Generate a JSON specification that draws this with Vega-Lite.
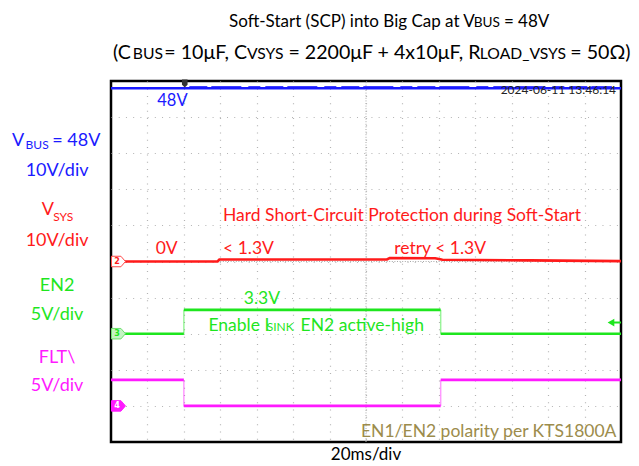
{
  "$schema": "https://vega.github.io/schema/vega-lite/v6.json",
  "width": 510,
  "height": 361,
  "autosize": "none",
  "padding": {"left": 111, "top": 81, "right": 18, "bottom": 24},
  "background": "white",
  "config": {"view": {"stroke": "#000000", "strokeWidth": 2.5}, "text": {"font": "Lato"}},
  "encoding": {
    "x": {"field": "t", "type": "quantitative", "scale": {"domain": [0, 280], "nice": false, "zero": false},
      "axis": {"values": [20, 40, 60, 80, 100, 120, 140, 160, 180, 200, 220, 240, 260], "grid": true, "gridColor": "#b4b4b4", "gridDash": [1, 6.29], "gridWidth": 1.2, "labels": false, "ticks": false, "domain": false, "title": null}},
    "y": {"field": "v", "type": "quantitative", "scale": {"domain": [0, 10], "nice": false, "zero": false},
      "axis": {"values": [1, 2, 3, 4, 5, 6, 7, 8, 9], "grid": true, "gridColor": "#b4b4b4", "gridDash": [1, 6.22], "gridWidth": 1.2, "labels": false, "ticks": false, "domain": false, "title": null}}
  },
  "layer": [
    {"data": {"values": [{"t": 140, "v": 0, "v2": 10}]}, "mark": {"type": "rule", "color": "#a8a8a8", "strokeDash": [1, 1.6], "strokeWidth": 1}, "encoding": {"y2": {"field": "v2"}}},
    {"data": {"values": [{"t": 0, "t2": 280, "v": 5}]}, "mark": {"type": "rule", "color": "#a8a8a8", "strokeDash": [1, 1.6], "strokeWidth": 1}, "encoding": {"x2": {"field": "t2"}}},
    {"data": {"values": [{"t": 43, "v": 9.845}, {"t": 275, "v": 9.845}]}, "mark": {"type": "line", "color": "#2828ff", "strokeWidth": 1.4, "strokeDash": [18, 4, 30, 7, 12, 5], "opacity": 0.9}, "encoding": {}},
    {"data": {"values": [
      {"ch": "VBUS", "seg": "b1", "t": 0, "v": 9.8}, {"ch": "VBUS", "seg": "b1", "t": 280, "v": 9.8},
      {"ch": "VSYS", "seg": "r1", "t": 0, "v": 5.0}, {"ch": "VSYS", "seg": "r1", "t": 58.5, "v": 5.0}, {"ch": "VSYS", "seg": "r1", "t": 59.5, "v": 5.055}, {"ch": "VSYS", "seg": "r1", "t": 151.5, "v": 5.055}, {"ch": "VSYS", "seg": "r1", "t": 153, "v": 5.095}, {"ch": "VSYS", "seg": "r1", "t": 178, "v": 5.09}, {"ch": "VSYS", "seg": "r1", "t": 182, "v": 5.05}, {"ch": "VSYS", "seg": "r1", "t": 230, "v": 5.03}, {"ch": "VSYS", "seg": "r1", "t": 280, "v": 5.01},
      {"ch": "EN2", "seg": "g1", "t": 0, "v": 3.0}, {"ch": "EN2", "seg": "g1", "t": 40, "v": 3.0},
      {"ch": "EN2", "seg": "g2", "t": 40, "v": 3.66}, {"ch": "EN2", "seg": "g2", "t": 181, "v": 3.66},
      {"ch": "EN2", "seg": "g3", "t": 181, "v": 3.0}, {"ch": "EN2", "seg": "g3", "t": 280, "v": 3.0},
      {"ch": "FLT", "seg": "m1", "t": 0, "v": 1.72}, {"ch": "FLT", "seg": "m1", "t": 40, "v": 1.72},
      {"ch": "FLT", "seg": "m2", "t": 40, "v": 1.0}, {"ch": "FLT", "seg": "m2", "t": 181, "v": 1.0},
      {"ch": "FLT", "seg": "m3", "t": 181, "v": 1.72}, {"ch": "FLT", "seg": "m3", "t": 280, "v": 1.72}
    ]}, "mark": {"type": "line", "strokeWidth": 2.6},
     "encoding": {"color": {"field": "ch", "type": "nominal", "scale": {"domain": ["VBUS", "VSYS", "EN2", "FLT", "note", "plain", "white"], "range": ["#1a1aff", "#ff1a1a", "#1ee61e", "#ff1aff", "#9c8c4c", "#000000", "#ffffff"]}, "legend": null}, "detail": {"field": "seg"}}},
    {"data": {"values": [
      {"ch": "EN2", "t": 40, "v": 3.0, "v2": 3.66}, {"ch": "EN2", "t": 181, "v": 3.0, "v2": 3.66},
      {"ch": "FLT", "t": 40, "v": 1.0, "v2": 1.72}, {"ch": "FLT", "t": 181, "v": 1.0, "v2": 1.72}
    ]}, "mark": {"type": "rule", "strokeWidth": 1.5, "opacity": 0.45},
     "encoding": {"y2": {"field": "v2"}, "color": {"field": "ch", "type": "nominal", "scale": {"domain": ["VBUS", "VSYS", "EN2", "FLT", "note", "plain", "white"], "range": ["#1a1aff", "#ff1a1a", "#1ee61e", "#ff1aff", "#9c8c4c", "#000000", "#ffffff"]}, "legend": null}}},
    {"data": {"values": [{"t": 276, "t2": 280, "v": 3.31}]}, "mark": {"type": "rule", "color": "#1ee61e", "strokeWidth": 2}, "encoding": {"x2": {"field": "t2"}}},
    {"data": {"values": [{"t": 274.5, "v": 3.31}]}, "mark": {"type": "point", "shape": "triangle-left", "filled": true, "color": "#1ee61e", "size": 60, "opacity": 1}, "encoding": {}},
    {"data": {"values": [{"t": 4.1, "v": 5.0}]}, "mark": {"type": "point", "shape": "M-1,-0.75L0.35,-0.75L1,0L0.35,0.75L-1,0.75Z", "filled": true, "fill": "#ffffff", "stroke": "#ff4a4a", "strokeWidth": 1, "size": 196, "opacity": 1}, "encoding": {}},
    {"data": {"values": [{"t": 4.1, "v": 3.0}]}, "mark": {"type": "point", "shape": "M-1,-0.75L0.35,-0.75L1,0L0.35,0.75L-1,0.75Z", "filled": true, "fill": "#c4f4c4", "stroke": "#6ee06e", "strokeWidth": 1, "size": 196, "opacity": 1}, "encoding": {}},
    {"data": {"values": [{"t": 4.1, "v": 1.0}]}, "mark": {"type": "point", "shape": "M-1,-0.75L0.35,-0.75L1,0L0.35,0.75L-1,0.75Z", "filled": true, "fill": "#ff1aff", "stroke": "#ff1aff", "strokeWidth": 1, "size": 196, "opacity": 1}, "encoding": {}},
    {"data": {"values": [{"t": 40.5, "v": 9.93}]}, "mark": {"type": "point", "shape": "M-0.7,-1L0.7,-1L0.7,0.3L0,1L-0.7,0.3Z", "filled": true, "color": "#333333", "size": 64, "opacity": 1}, "encoding": {}},
    {"data": {"values": [{"txt": "2", "t": 3.3, "v": 5.0, "ch": "VSYS"}, {"txt": "3", "t": 3.3, "v": 3.0, "ch": "EN2"}, {"txt": "4", "t": 3.3, "v": 1.0, "ch": "white"}]},
     "mark": {"type": "text", "font": "DejaVu Sans", "fontSize": 8, "fontWeight": "bold", "align": "center", "baseline": "middle"},
     "encoding": {"text": {"field": "txt"}, "color": {"field": "ch", "type": "nominal", "scale": {"domain": ["VBUS", "VSYS", "EN2", "FLT", "note", "plain", "white"], "range": ["#1a1aff", "#ff1a1a", "#1ee61e", "#ff1aff", "#9c8c4c", "#000000", "#ffffff"]}, "legend": null}}},
    {"data": {"values": [
      {"txt": "10V/div", "t": -29.6, "v": 7.5, "ch": "VBUS"},
      {"txt": "10V/div", "t": -29.6, "v": 5.58, "ch": "VSYS"},
      {"txt": "EN2", "t": -29.6, "v": 4.33, "ch": "EN2"},
      {"txt": "5V/div", "t": -29.6, "v": 3.53, "ch": "EN2"},
      {"txt": "FLT\\", "t": -29.6, "v": 2.32, "ch": "FLT"},
      {"txt": "5V/div", "t": -29.6, "v": 1.56, "ch": "FLT"}
    ]}, "mark": {"type": "text", "fontSize": 18, "align": "center", "baseline": "middle"},
     "encoding": {"text": {"field": "txt"}, "color": {"field": "ch", "type": "nominal", "scale": {"domain": ["VBUS", "VSYS", "EN2", "FLT", "note", "plain", "white"], "range": ["#1a1aff", "#ff1a1a", "#1ee61e", "#ff1aff", "#9c8c4c", "#000000", "#ffffff"]}, "legend": null}}},
    {"data": {"values": [
      {"txt": "V", "t": -54.3, "v": 8.19, "ch": "VBUS"},
      {"txt": "V", "t": -38.0, "v": 6.29, "ch": "VSYS"}
    ]}, "mark": {"type": "text", "fontSize": 18, "align": "left", "baseline": "alphabetic"},
     "encoding": {"text": {"field": "txt"}, "color": {"field": "ch", "type": "nominal", "scale": {"domain": ["VBUS", "VSYS", "EN2", "FLT", "note", "plain", "white"], "range": ["#1a1aff", "#ff1a1a", "#1ee61e", "#ff1aff", "#9c8c4c", "#000000", "#ffffff"]}, "legend": null}}},
    {"data": {"values": [
      {"txt": "BUS", "t": -46.9, "v": 8.12, "ch": "VBUS"},
      {"txt": "SYS", "t": -31.7, "v": 6.13, "ch": "VSYS"}
    ]}, "mark": {"type": "text", "fontSize": 12, "align": "left", "baseline": "alphabetic"},
     "encoding": {"text": {"field": "txt"}, "color": {"field": "ch", "type": "nominal", "scale": {"domain": ["VBUS", "VSYS", "EN2", "FLT", "note", "plain", "white"], "range": ["#1a1aff", "#ff1a1a", "#1ee61e", "#ff1aff", "#9c8c4c", "#000000", "#ffffff"]}, "legend": null}}},
    {"data": {"values": [
      {"txt": "= 48V", "t": -5.8, "v": 8.19, "ch": "VBUS"}
    ]}, "mark": {"type": "text", "fontSize": 18, "align": "right", "baseline": "alphabetic"},
     "encoding": {"text": {"field": "txt"}, "color": {"field": "ch", "type": "nominal", "scale": {"domain": ["VBUS", "VSYS", "EN2", "FLT", "note", "plain", "white"], "range": ["#1a1aff", "#ff1a1a", "#1ee61e", "#ff1aff", "#9c8c4c", "#000000", "#ffffff"]}, "legend": null}}},
    {"data": {"values": [
      {"txt": "48V", "t": 25.4, "v": 9.45, "ch": "VBUS"}
    ]}, "mark": {"type": "text", "fontSize": 16.5, "align": "left", "baseline": "middle"},
     "encoding": {"text": {"field": "txt"}, "color": {"field": "ch", "type": "nominal", "scale": {"domain": ["VBUS", "VSYS", "EN2", "FLT", "note", "plain", "white"], "range": ["#1a1aff", "#ff1a1a", "#1ee61e", "#ff1aff", "#9c8c4c", "#000000", "#ffffff"]}, "legend": null}}},
    {"data": {"values": [
      {"txt": "Hard Short-Circuit Protection during Soft-Start", "t": 61.5, "v": 6.25, "ch": "VSYS"},
      {"txt": "0V", "t": 24.5, "v": 5.35, "ch": "VSYS"},
      {"txt": "< 1.3V", "t": 61.5, "v": 5.35, "ch": "VSYS"},
      {"txt": "retry < 1.3V", "t": 155.5, "v": 5.35, "ch": "VSYS"},
      {"txt": "3.3V", "t": 72.9, "v": 3.97, "ch": "EN2"}
    ]}, "mark": {"type": "text", "fontSize": 17.5, "align": "left", "baseline": "middle"},
     "encoding": {"text": {"field": "txt"}, "color": {"field": "ch", "type": "nominal", "scale": {"domain": ["VBUS", "VSYS", "EN2", "FLT", "note", "plain", "white"], "range": ["#1a1aff", "#ff1a1a", "#1ee61e", "#ff1aff", "#9c8c4c", "#000000", "#ffffff"]}, "legend": null}}},
    {"data": {"values": [
      {"txt": "Enable I", "t": 53.5, "v": 3.08, "ch": "EN2"}
    ]}, "mark": {"type": "text", "fontSize": 17.5, "align": "left", "baseline": "alphabetic"},
     "encoding": {"text": {"field": "txt"}, "color": {"field": "ch", "type": "nominal", "scale": {"domain": ["VBUS", "VSYS", "EN2", "FLT", "note", "plain", "white"], "range": ["#1a1aff", "#ff1a1a", "#1ee61e", "#ff1aff", "#9c8c4c", "#000000", "#ffffff"]}, "legend": null}}},
    {"data": {"values": [
      {"txt": "SINK", "t": 85.5, "v": 3.08, "ch": "EN2"}
    ]}, "mark": {"type": "text", "fontSize": 12, "align": "left", "baseline": "alphabetic"},
     "encoding": {"text": {"field": "txt"}, "color": {"field": "ch", "type": "nominal", "scale": {"domain": ["VBUS", "VSYS", "EN2", "FLT", "note", "plain", "white"], "range": ["#1a1aff", "#ff1a1a", "#1ee61e", "#ff1aff", "#9c8c4c", "#000000", "#ffffff"]}, "legend": null}}},
    {"data": {"values": [
      {"txt": "EN2 active-high", "t": 171.8, "v": 3.08, "ch": "EN2"}
    ]}, "mark": {"type": "text", "fontSize": 17.5, "align": "right", "baseline": "alphabetic"},
     "encoding": {"text": {"field": "txt"}, "color": {"field": "ch", "type": "nominal", "scale": {"domain": ["VBUS", "VSYS", "EN2", "FLT", "note", "plain", "white"], "range": ["#1a1aff", "#ff1a1a", "#1ee61e", "#ff1aff", "#9c8c4c", "#000000", "#ffffff"]}, "legend": null}}},
    {"data": {"values": [
      {"txt": "EN1/EN2 polarity per KTS1800A", "t": 277.5, "v": 0.29, "ch": "note"}
    ]}, "mark": {"type": "text", "fontSize": 17.5, "align": "right", "baseline": "middle"},
     "encoding": {"text": {"field": "txt"}, "color": {"field": "ch", "type": "nominal", "scale": {"domain": ["VBUS", "VSYS", "EN2", "FLT", "note", "plain", "white"], "range": ["#1a1aff", "#ff1a1a", "#1ee61e", "#ff1aff", "#9c8c4c", "#000000", "#ffffff"]}, "legend": null}}},
    {"data": {"values": [
      {"txt": "2024-06-11 13:46:14", "t": 277.3, "v": 9.74}
    ]}, "mark": {"type": "text", "fontSize": 12, "align": "right", "baseline": "middle", "color": "#222222"},
     "encoding": {"text": {"field": "txt"}}},
    {"data": {"values": [
      {"txt": "20ms/div", "t": 140, "v": -0.36}
    ]}, "mark": {"type": "text", "fontSize": 17, "align": "center", "baseline": "middle", "color": "#000000"},
     "encoding": {"text": {"field": "txt"}}},
    {"data": {"values": [
      {"txt": "Soft-Start (SCP) into Big Cap at V", "t": 64.8, "v": 11.5},
      {"txt": "= 48V", "t": 215.7, "v": 11.5}
    ]}, "mark": {"type": "text", "fontSize": 17, "align": "left", "baseline": "alphabetic", "color": "#000000"},
     "encoding": {"text": {"field": "txt"}}},
    {"data": {"values": [
      {"txt": "BUS", "t": 199.2, "v": 11.5}
    ]}, "mark": {"type": "text", "fontSize": 13.6, "align": "left", "baseline": "alphabetic", "color": "#000000"},
     "encoding": {"text": {"field": "txt"}}},
    {"data": {"values": [
      {"txt": "(C", "t": 1.1, "v": 10.61},
      {"txt": "= 10μF, C", "t": 29.3, "v": 10.61},
      {"txt": "= 2200μF + 4x10μF, R", "t": 97.4, "v": 10.61},
      {"txt": "= 50Ω)", "t": 252.2, "v": 10.61}
    ]}, "mark": {"type": "text", "fontSize": 19.6, "align": "left", "baseline": "alphabetic", "color": "#000000"},
     "encoding": {"text": {"field": "txt"}}},
    {"data": {"values": [
      {"txt": "BUS", "t": 12.0, "v": 10.61},
      {"txt": "VSYS", "t": 74.6, "v": 10.61},
      {"txt": "LOAD_VSYS", "t": 202.5, "v": 10.61}
    ]}, "mark": {"type": "text", "fontSize": 15.7, "align": "left", "baseline": "alphabetic", "color": "#000000"},
     "encoding": {"text": {"field": "txt"}}}
  ]
}
